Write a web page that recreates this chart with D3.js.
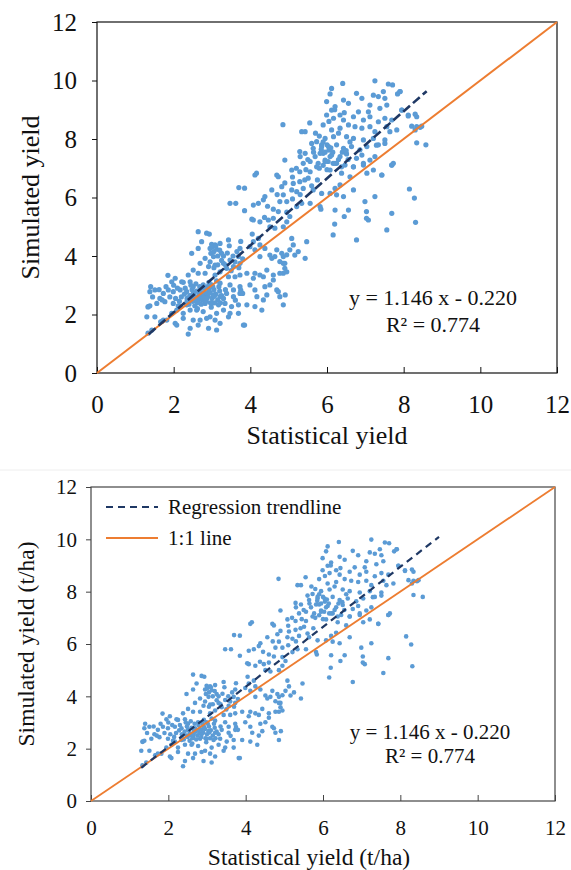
<!DOCTYPE html>
<html><head><meta charset="utf-8">
<script src="https://cdn.jsdelivr.net/npm/d3@7"></script>
<style>body{margin:0;background:#fff} svg{display:block} text{font-family:"Liberation Serif","Times New Roman",Times,"DejaVu Serif","Noto Serif",serif;fill:#111}</style>
</head><body><svg id="c" width="571" height="870"></svg>
<script>
// ---- data ----
const tickValues = [0, 2, 4, 6, 8, 10, 12];
const slope = 1.146, intercept = -0.220;
const eqText = "y = 1.146 x - 0.220";
const r2Text = "R\u00B2 = 0.774";
const trendRange1 = [1.35, 8.6];
const trendRange2 = [1.3, 9.0];
const legendLabels = ["Regression trendline", "1:1 line"];

const lowCluster = [
[2.64,4.83],[2.86,4.78],[2.93,4.75],[2.73,4.49],[2.99,4.40],[3.08,4.38],[3.21,4.43],[2.95,4.26],[3.12,4.23],[2.97,4.09],
[3.04,3.98],[3.25,4.09],[3.43,4.55],[3.73,4.26],[3.69,3.98],[2.47,4.09],[2.64,4.26],[2.82,3.92],[3.30,3.75],[3.47,3.86],
[3.56,3.64],[3.73,3.75],[3.38,3.58],[3.08,3.69],[2.91,3.64],[2.69,3.75],[2.51,3.52],[2.38,3.35],[2.64,3.41],[2.82,3.41],
[3.08,3.35],[3.21,3.46],[3.43,3.29],[3.60,3.29],[3.73,3.35],[3.91,3.41],[3.73,2.72],[3.56,2.61],[3.38,2.72],[3.21,2.61],
[3.04,2.67],[2.86,2.72],[2.69,2.78],[2.51,2.72],[2.34,2.78],[2.17,2.84],[1.99,2.78],[1.86,2.84],[1.73,2.72],[1.64,2.55],
[1.51,2.84],[1.38,2.78],[1.34,2.27],[1.56,2.38],[1.77,2.44],[1.99,2.38],[2.17,2.27],[2.34,2.33],[2.47,2.50],[2.64,2.44],
[2.82,2.38],[2.99,2.38],[3.17,2.33],[3.34,2.38],[3.51,2.27],[3.69,2.33],[3.91,2.33],[3.69,2.04],[3.47,2.04],[3.30,2.15],
[3.12,2.04],[2.95,1.92],[2.77,2.10],[2.60,2.15],[2.43,2.15],[2.25,2.04],[2.08,2.15],[1.95,2.04],[1.82,1.81],[1.69,1.76],
[1.30,1.92],[1.51,1.92],[2.04,1.70],[2.08,1.64],[2.25,1.87],[2.51,1.81],[2.69,1.81],[2.86,1.87],[3.08,1.81],[3.21,1.70],
[3.43,1.92],[2.64,1.64],[2.43,1.53],[2.91,1.53],[3.12,1.47],[2.38,1.33],[3.82,1.64],[3.85,1.64],[3.99,3.01],[1.95,3.12],
[2.04,3.24],[2.21,3.12],[2.43,3.12],[2.51,2.95],[2.77,3.01],[2.99,3.01],[3.21,3.07],[3.47,3.01],[3.56,2.84],[3.73,2.95],
[2.20,2.60],[2.28,2.70],[2.35,2.55],[2.42,2.65],[2.50,2.45],[2.55,2.60],[2.60,2.80],[2.65,2.55],[2.70,2.65],[2.75,2.50],
[2.80,2.60],[2.85,2.45],[2.90,2.62],[2.95,2.75],[3.00,2.55],[3.05,2.85],[3.10,2.70],[3.15,2.50],[3.20,2.80],[3.25,2.65],
[2.30,2.90],[2.45,3.00],[2.55,2.30],[2.62,2.20],[2.72,2.35],[2.78,2.90],[2.88,2.95],[2.98,2.25],[3.08,2.40],[3.18,2.95],
[2.40,2.35],[2.48,2.85],[2.58,3.05],[2.68,2.95],[2.82,2.75],[2.92,3.10],[3.02,2.95],[3.12,3.15],[2.35,2.45],[2.52,2.72],
[2.62,2.40],[2.74,2.72],[2.86,2.55],[2.96,2.40],[3.06,2.62],[3.22,2.40],[3.30,2.55],[3.35,2.85],[2.15,2.45],[2.10,2.90],
[2.25,3.10],[2.05,2.55],[2.00,3.00],[2.12,2.30],[1.90,2.60],[1.80,2.95],[1.70,2.50],[1.62,2.85],[1.45,2.60],[1.40,2.95],
[3.00,4.30],[3.05,4.15],[3.10,4.35],[3.15,4.00],[3.20,4.20],[2.95,3.80],[3.05,3.60],[3.15,3.70],[3.25,3.85],[3.30,4.00],
[3.40,4.10],[3.35,3.70],[3.50,3.50],[3.45,4.35],[3.55,4.00],[3.60,3.80],[3.70,3.60],[3.80,3.90],[3.65,4.15],[3.75,4.50],
[1.33,1.36],[1.43,1.47],[1.66,1.75],[1.73,1.81],[1.85,3.34],[1.38,2.30],[1.33,2.26],[2.56,2.52],[2.66,2.68],[2.92,2.85],
[3.62,5.80],[3.70,6.34],[3.85,6.32],[3.85,5.55],[3.47,5.80],[3.61,2.49],[3.75,2.83],[3.80,2.72]
];

const midCluster = [
[4.16,6.83],[4.12,6.77],[4.69,6.77],[4.73,6.71],[4.90,7.28],[4.56,6.26],[4.38,6.03],[4.34,5.92],[4.21,5.80],[4.08,5.74],
[4.82,6.37],[4.86,6.09],[4.77,5.86],[5.12,6.48],[5.29,6.54],[5.42,6.60],[5.51,6.66],[5.08,6.94],[5.29,6.88],[5.38,7.17],
[5.56,6.88],[5.73,7.05],[5.08,6.26],[5.21,6.20],[5.38,6.31],[5.64,6.26],[5.86,6.14],[6.08,6.14],[6.21,6.31],[6.34,6.43],
[6.25,6.09],[5.82,5.69],[5.56,5.80],[5.34,5.80],[5.21,5.69],[4.95,5.86],[4.73,5.52],[4.60,5.29],[4.47,5.23],[4.25,5.17],
[4.08,5.23],[4.51,5.00],[4.64,4.95],[4.86,5.00],[4.95,5.17],[5.03,5.35],[4.21,4.60],[4.08,4.49],[3.99,4.32],[4.25,4.38],
[4.12,4.21],[4.38,4.26],[4.51,4.03],[4.25,3.98],[4.64,3.98],[4.77,3.81],[4.86,3.98],[4.90,3.75],[4.90,3.58],[4.86,3.41],
[4.60,3.35],[4.34,3.29],[4.12,3.41],[5.08,4.60],[5.12,4.38],[5.25,4.15],[5.16,4.03],[5.43,3.92],[5.47,4.49],[5.03,4.21],
[4.08,3.24],[4.25,3.35],[4.43,3.52],[4.56,3.92],[4.69,4.21],[4.82,4.09],[4.95,4.04],[4.86,3.75],[4.77,3.41],[4.95,3.46],
[4.60,3.18],[4.38,2.95],[4.51,3.01],[4.69,2.84],[4.77,2.61],[4.91,2.67],[4.43,2.67],[4.34,2.50],[4.12,2.84],[4.30,2.15],
[4.12,2.27],[4.86,2.33],[4.73,2.78],[4.17,2.61],[4.85,8.49],[4.05,4.75],[4.04,5.26],[4.37,5.32],
[4.90,6.50],[4.70,6.10],[4.60,5.60],[4.45,5.70],[4.95,5.50],[5.10,5.95],[5.30,6.10],[5.10,6.70],[5.20,7.00]
];

const highCluster = [
[5.34,8.25],[5.43,8.25],[5.60,7.85],[5.73,7.91],[5.64,7.68],[5.86,7.74],[5.82,7.51],[5.69,7.40],[5.43,7.51],[5.29,7.57],
[5.95,7.28],[5.56,7.23],[5.77,7.17],[6.03,7.23],[6.25,7.17],[6.08,7.40],[6.16,7.17],[6.38,7.05],[6.69,7.05],[6.95,7.11],
[7.12,7.28],[7.43,6.77],[7.69,7.11],[7.73,7.17],[7.29,7.79],[7.51,7.85],[6.21,5.57],[6.16,4.72],[6.77,4.55],[6.56,5.57],
[6.99,5.86],[7.03,5.52],[7.03,5.29],[7.08,5.23],[7.56,4.89],[7.69,5.46],[7.25,6.03],[6.69,6.26],[6.43,6.03],[6.20,5.09],
[6.41,9.90],[7.25,9.99],[7.60,9.88],[7.71,9.85],[6.12,9.73],[6.08,9.54],[6.77,9.56],[6.91,9.39],[7.21,9.50],[7.34,9.45],
[7.47,9.62],[7.51,9.39],[7.90,9.62],[7.84,9.54],[6.43,9.33],[6.56,9.22],[5.99,9.28],[6.21,9.11],[6.12,8.99],[7.12,9.16],
[7.38,9.05],[7.56,9.16],[6.82,8.93],[7.08,8.93],[6.69,8.76],[6.34,8.82],[5.99,8.82],[6.17,8.71],[6.43,8.65],[6.95,8.65],
[7.12,8.76],[7.34,8.59],[7.51,8.71],[7.69,8.65],[7.95,8.99],[8.12,8.82],[8.34,8.76],[5.90,8.48],[6.12,8.31],[6.34,8.37],
[6.56,8.48],[6.73,8.42],[6.91,8.37],[7.12,8.42],[7.25,8.25],[7.56,8.42],[7.82,8.31],[5.95,8.02],[6.17,8.08],[6.51,8.08],
[6.69,8.02],[6.95,7.97],[7.21,8.02],[7.51,7.97],[7.64,8.25],[5.86,7.80],[6.04,7.74],[6.25,7.80],[6.43,7.68],[6.64,7.74],
[6.86,7.63],[7.04,7.74],[7.34,7.80],[5.90,7.51],[6.12,7.45],[6.34,7.40],[6.51,7.49],[6.77,7.34],[6.91,7.45],[7.25,7.40],
[5.95,7.23],[6.21,7.17],[6.47,7.11],[6.69,7.05],[6.95,7.17],[7.21,6.94],[7.69,7.11],[7.43,6.77],[6.08,6.94],[6.38,6.83],
[6.60,6.71],[7.04,6.83],[5.84,5.60],[6.45,5.35],
[5.85,7.65],[5.95,7.55],[6.05,7.62],[6.00,7.80],[5.90,7.90],[6.10,7.70],[6.15,7.55],[5.80,7.00],[5.90,7.10],[6.00,6.95],
[6.30,7.30],[6.40,7.55],[6.50,7.60],[6.55,7.30],[6.60,7.90],[6.30,8.20],[6.45,8.90],[6.20,9.00],[6.05,8.60],[5.70,8.20],
[5.55,8.55],[5.80,8.10],[5.65,7.55],[5.50,7.30],[5.45,6.95],[5.30,7.40],[5.60,6.40],[5.75,6.60]
];

const rightOutliers = [
[8.21,8.44],[8.34,8.42],[8.43,8.40],[8.47,8.44],[8.30,8.31],[8.34,7.87],[8.58,7.80],[8.15,6.29],[8.28,5.98],[8.31,5.15],
[7.91,9.62],[8.12,8.79],[8.30,8.85],[7.95,8.99]
];

const points = lowCluster.concat(midCluster, highCluster, rightOutliers);

// ---- drawing ----
const svg = d3.select("#c");
const FONT = '"Liberation Serif","Times New Roman",Times,"DejaVu Serif",serif';

function panel(cfg) {
  const g = svg.append("g").attr("font-family", FONT);
  const x = d3.scaleLinear().domain([0, 12]).range([cfg.left, cfg.right]);
  const y = d3.scaleLinear().domain([0, 12]).range([cfg.bottom, cfg.top]);

  g.append("rect").attr("x", cfg.left).attr("y", cfg.top)
    .attr("width", cfg.right - cfg.left).attr("height", cfg.bottom - cfg.top)
    .attr("fill", "none").attr("stroke", cfg.frame).attr("stroke-width", 1.2);

  const xa = g.append("g").attr("transform", `translate(0,${cfg.bottom})`)
    .call(d3.axisBottom(x).tickValues(tickValues).tickSize(-6).tickPadding(cfg.xPad).tickFormat(d3.format("d")));
  xa.attr("font-family", FONT);
  xa.select(".domain").remove();
  xa.selectAll("line").attr("stroke", cfg.frame);
  xa.selectAll("text").attr("font-size", cfg.tick).attr("fill", "#111");

  const ya = g.append("g").attr("transform", `translate(${cfg.left},0)`)
    .call(d3.axisLeft(y).tickValues(tickValues).tickSize(5).tickPadding(cfg.yPad).tickFormat(d3.format("d")));
  ya.attr("font-family", FONT);
  ya.select(".domain").remove();
  ya.selectAll("line").attr("stroke", cfg.frame);
  ya.selectAll("text").attr("font-size", cfg.tick).attr("fill", "#111");

  g.append("g").selectAll("circle").data(points).join("circle")
    .attr("cx", d => x(d[0])).attr("cy", d => y(d[1])).attr("r", cfg.r)
    .attr("fill", "#5b9bd5");

  g.append("line").attr("x1", x(0)).attr("y1", y(0)).attr("x2", x(12)).attr("y2", y(12))
    .attr("stroke", "#ed7d31").attr("stroke-width", cfg.lw);

  const tr = cfg.trend;
  g.append("line").attr("x1", x(tr[0])).attr("y1", y(slope * tr[0] + intercept))
    .attr("x2", x(tr[1])).attr("y2", y(slope * tr[1] + intercept))
    .attr("stroke", "#1f3864").attr("stroke-width", cfg.dw).attr("stroke-dasharray", cfg.dash);

  g.append("text").attr("x", cfg.eqX).attr("y", cfg.eqY).attr("text-anchor", "middle")
    .attr("font-size", cfg.eqSize).text(eqText);
  g.append("text").attr("x", cfg.eqX).attr("y", cfg.eqY + cfg.eqGap).attr("text-anchor", "middle")
    .attr("font-size", cfg.eqSize).text(r2Text);

  g.append("text").attr("x", (cfg.left + cfg.right) / 2 + cfg.xTitleDx).attr("y", cfg.xTitleY).attr("text-anchor", "middle")
    .attr("font-size", cfg.title).text(cfg.xTitle);
  g.append("text").attr("transform", `translate(${cfg.yTitleX},${(cfg.top + cfg.bottom) / 2}) rotate(-90)`)
    .attr("text-anchor", "middle").attr("font-size", cfg.title).text(cfg.yTitle);

  if (cfg.legend) {
    const L = g.append("g");
    L.append("line").attr("x1", 106).attr("x2", 158).attr("y1", 507).attr("y2", 507)
      .attr("stroke", "#1f3864").attr("stroke-width", 2.2).attr("stroke-dasharray", "7,5");
    L.append("text").attr("x", 168).attr("y", 514).attr("font-size", 21).text(legendLabels[0]);
    L.append("line").attr("x1", 106).attr("x2", 158).attr("y1", 538).attr("y2", 538)
      .attr("stroke", "#ed7d31").attr("stroke-width", 1.8);
    L.append("text").attr("x", 168).attr("y", 545).attr("font-size", 21).text(legendLabels[1]);
  }
}

panel({left: 97, right: 557, top: 22, bottom: 373, frame: "#111", tick: 25, xPad: 22, yPad: 15,
  r: 2.6, lw: 2, dw: 2.6, dash: "9,4", trend: trendRange1,
  eqX: 433, eqY: 305, eqGap: 27, eqSize: 22,
  xTitle: "Statistical yield", xTitleDx: 0, xTitleY: 444, yTitle: "Simulated yield", yTitleX: 39, title: 26});

svg.append("line").attr("x1", 0).attr("x2", 571).attr("y1", 470).attr("y2", 470).attr("stroke", "#eeeeee");

panel({left: 91, right: 555, top: 487, bottom: 801, frame: "#444", tick: 21, xPad: 19, yPad: 9,
  r: 2.3, lw: 1.8, dw: 2.2, dash: "7,5", trend: trendRange2,
  eqX: 430, eqY: 739, eqGap: 24, eqSize: 21,
  xTitle: "Statistical yield (t/ha)", xTitleDx: -14, xTitleY: 865, yTitle: "Simulated yield (t/ha)", yTitleX: 34, title: 23.5,
  legend: true});
</script>
</body></html>
